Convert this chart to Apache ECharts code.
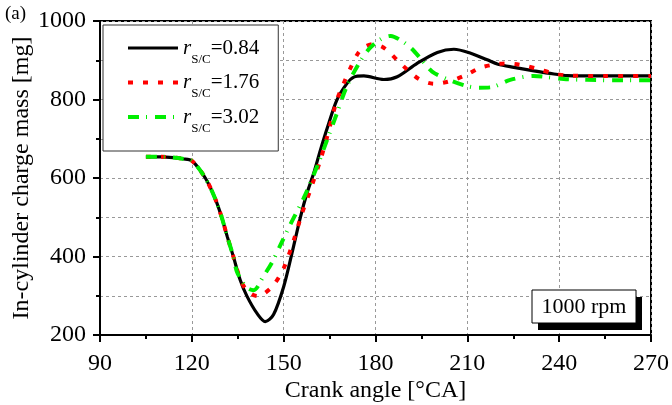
<!DOCTYPE html>
<html>
<head>
<meta charset="utf-8">
<script src="https://cdn.jsdelivr.net/npm/echarts@6/dist/echarts.min.js"></script>
<style>html,body{margin:0;padding:0;background:#fff;}#c{width:672px;height:405px;}</style>
</head>
<body>
<div id="c"></div>
<script>
// ---- data ----
const seriesNames = ['0.84', '1.76', '3.02'];

const angle084 = [105,110,114,117,120,124.4,127.6,129.8,131.6,133.6,135.8,138,141.3,144,146.7,150,152.7,155.5,157.6,159.8,162,164.4,167.4,170.7,172.9,176.2,182.7,187.1,193.6,200.2,205.6,211.1,216.5,220,225.2,231.8,238.3,242.7,255,270];
const mass084  = [654,654,652,649,644,600,548,499,450,399,340,299,255,234,252,323,408,501,561,612,671,731,799,841,857,860,851,858,892,920,928,918,901,890,882,873,865,861,860,860];

const angle176 = [105,110,114,117,120,124.4,127.6,129.8,131.6,133.6,135.8,137.5,139.5,141.5,143.5,146.7,150,153.3,156,158.7,162,164.2,167.4,169.6,171.8,174.5,177,179.4,182,184.3,188.7,194.2,199.1,204,209.4,214.3,219.5,222.5,227.4,232.9,237.8,242.7,255,270];
const mass176  = [654,654,652,649,644,600,548,499,450,399,342,318,304,299,305,327,370,442,510,569,646,705,799,841,880,920,936,941,935,922,888,852,840,846,862,881,890,892,888,878,867,861,860,860];

const angle302 = [105,110,114,117,120,124.4,127.6,129.8,131.6,133.6,134.7,137,138.5,140.2,143.4,146.2,149,152.2,156.5,160.9,164.2,167.4,170.6,175.2,178.3,182,185,188,191.5,195,198.5,204,210,213.5,217.6,224,231.7,236,241.5,249.2,260,270];
const mass302  = [654,654,652,649,644,600,548,499,450,399,362,330,318,314,350,385,430,482,548,629,697,765,833,900,932,955,962,952,932,902,871,850,834,830,831,850,860,857,852,850,849,849];

const xTicks = {min: 90, max: 270, step: 30};
const yTicks = {min: 200, max: 1000, step: 200};

function zip(a, b) { return a.map((v, i) => [v, b[i]]); }

const serif = 'Liberation Serif, Times New Roman, serif';
const chart = echarts.init(document.getElementById('c'), null, {renderer: 'canvas'});

const legendRich = {
  r: {fontFamily: serif, fontStyle: 'italic', fontSize: 21, lineHeight: 22, color: '#000'},
  s: {fontFamily: serif, fontSize: 13, lineHeight: 1, verticalAlign: 'top', padding: [16, 0, 0, 0], color: '#000'},
  v: {fontFamily: serif, fontSize: 21, lineHeight: 22, color: '#000'}
};

chart.setOption({
  animation: false,
  backgroundColor: '#fff',
  grid: {left: 100, right: 21, top: 21, bottom: 70, outerBoundsMode: 'none', containLabel: false,
         show: true, borderColor: '#000', borderWidth: 2, backgroundColor: 'transparent'},
  legend: {
    orient: 'vertical', left: 103, top: 25,
    padding: [12, 19, 16, 23],
    itemGap: 5.5, itemWidth: 50, itemHeight: 10,
    itemStyle: {opacity: 0},
    lineStyle: {width: 'inherit'},
    backgroundColor: '#fff', borderColor: '#333', borderWidth: 1,
    data: seriesNames,
    formatter: name => '{r|r}{s|S/C}{v|=' + name + '}',
    textStyle: {rich: legendRich}
  },
  xAxis: {
    type: 'value', min: xTicks.min, max: xTicks.max, interval: xTicks.step,
    name: 'Crank angle [°CA]', nameLocation: 'middle', nameGap: 44, nameMoveOverlap: false,
    nameTextStyle: {fontFamily: serif, fontSize: 24, color: '#000'},
    axisLine: {show: true, onZero: false, lineStyle: {color: '#000', width: 2}},
    axisTick: {show: true, length: 7, lineStyle: {color: '#000', width: 2}},
    minorTick: {show: true, splitNumber: 2, length: 4, lineStyle: {color: '#000', width: 2}},
    splitLine: {show: true, lineStyle: {color: '#999', width: 1, type: [3, 3]}},
    axisLabel: {fontFamily: serif, fontSize: 24, color: '#000', margin: 17}
  },
  yAxis: {
    type: 'value', min: yTicks.min, max: yTicks.max, interval: yTicks.step,
    name: 'In-cylinder charge mass [mg]', nameLocation: 'middle', nameGap: 66, nameMoveOverlap: false,
    nameTextStyle: {fontFamily: serif, fontSize: 24, color: '#000'},
    axisLine: {show: true, onZero: false, lineStyle: {color: '#000', width: 2}},
    axisTick: {show: true, length: 7, lineStyle: {color: '#000', width: 2}},
    minorTick: {show: true, splitNumber: 2, length: 4, lineStyle: {color: '#000', width: 2}},
    splitLine: {show: true, lineStyle: {color: '#999', width: 1, type: [3, 3]}},
    minorSplitLine: {show: true, lineStyle: {color: '#999', width: 1, type: [3, 3]}},
    axisLabel: {fontFamily: serif, fontSize: 24, color: '#000', margin: 14, formatter: v => String(v)}
  },
  series: [
    {name: seriesNames[0], type: 'line', data: zip(angle084, mass084), symbol: 'none', smooth: 0.3, z: 3,
     lineStyle: {color: '#000', width: 3.2}, itemStyle: {color: '#000'}},
    {name: seriesNames[1], type: 'line', data: zip(angle176, mass176), symbol: 'none', smooth: 0.3, z: 4,
     lineStyle: {color: '#ff0000', width: 4, type: [5, 10]}, itemStyle: {color: '#ff0000'}},
    {name: seriesNames[2], type: 'line', data: zip(angle302, mass302), symbol: 'none', smooth: 0.3, z: 5,
     lineStyle: {color: '#00ee00', width: 4, type: [11, 7, 1, 8]}, itemStyle: {color: '#00ee00'}}
  ],
  graphic: [
    {type: 'text', left: 5, top: 5, style: {text: '(a)', font: '19px ' + serif, fill: '#000'}},
    {type: 'rect', z: 10, shape: {x: 538, y: 297, width: 104, height: 33}, style: {fill: '#000'}},
    {type: 'rect', z: 11, shape: {x: 532, y: 290, width: 104, height: 33}, style: {fill: '#fff', stroke: '#000', lineWidth: 1}},
    {type: 'text', z: 12, x: 584, y: 307, style: {text: '1000 rpm', font: '22px ' + serif, fill: '#000', textAlign: 'center', textVerticalAlign: 'middle'}}
  ]
});
</script>
</body>
</html>
